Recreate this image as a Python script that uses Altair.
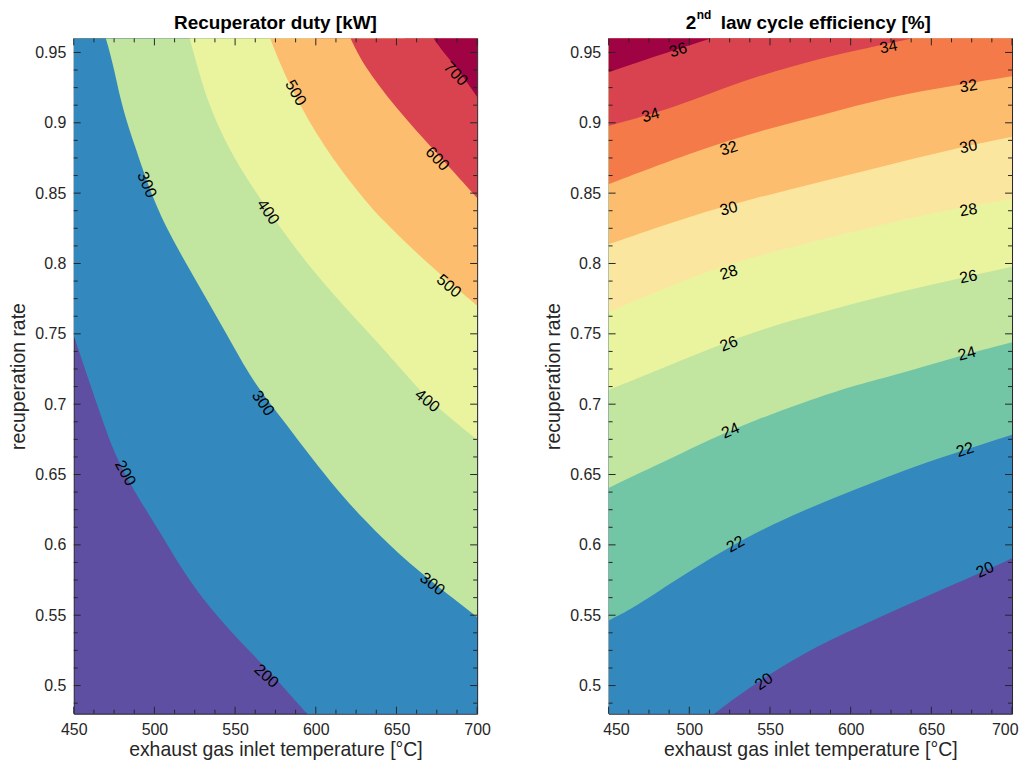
import altair as alt
import pandas as pd

# ---------------- Left panel: recuperator duty [kW] contour lines (T in °C, r = recuperation rate)
d200_T = [450, 459.3, 466.5, 475.7, 487, 503.5, 517.9, 536.4, 555, 575.6, 594, 700]
d200_r = [0.749, 0.717, 0.693, 0.663, 0.639, 0.609, 0.5805, 0.552, 0.529, 0.505, 0.480, 0.35]
d300_T = [450, 471.6, 478.8, 487, 499.4, 511.7, 528.2, 544.7, 561, 575.6, 610.5, 637.3, 664, 700]
d300_r = [1.02, 0.96, 0.9148, 0.8865, 0.8441, 0.8159, 0.7829, 0.75, 0.716, 0.695, 0.6417, 0.6088, 0.5805, 0.5487]
d400_T = [500, 522, 532.3, 548.8, 569.4, 590, 610.5, 637.3, 662, 672.2, 700]
d400_r = [1.05, 0.96, 0.9148, 0.8747, 0.8394, 0.8065, 0.7782, 0.7453, 0.713, 0.7006, 0.6747]
d500_T = [550, 571.4, 581.7, 600.2, 620.8, 641.4, 672.2, 700]
d500_r = [1.03, 0.96, 0.9312, 0.8912, 0.8583, 0.83, 0.797, 0.77]
d600_T = [600, 620.8, 631.1, 651.7, 672.2, 700]
d600_r = [1.02, 0.96, 0.9383, 0.9077, 0.8818, 0.8465]
d700_T = [655, 671.2, 686.7, 700]
d700_r = [1.0, 0.96, 0.9407, 0.9183]

duty_lab_T = [686.7, 587.5, 675.3, 495.3, 570.4, 682.5, 669.1, 567.3, 481.9, 672.2, 569.4]
duty_lab_r = [0.9347, 0.9213, 0.8743, 0.856, 0.8366, 0.784, 0.7024, 0.7006, 0.651, 0.5722, 0.5068]
duty_lab_s = ["700", "500", "600", "300", "400", "500", "400", "300", "200", "300", "200"]
duty_lab_a = [46, 60, 46, 67, 55, 40, 39, 55, 62, 38, 42]

# ---------------- Right panel: 2nd law cycle efficiency [%] contour lines
e20_T = [450, 515.2, 541, 571.9, 602.8, 633.8, 664.7, 700]
e20_r = [0.42, 0.4804, 0.5016, 0.524, 0.5405, 0.5569, 0.5722, 0.5904]
e22_T = [450, 464.7, 489.4, 512.1, 541, 571.9, 602.8, 633.8, 664.7, 700]
e22_r = [0.5463, 0.5546, 0.5734, 0.5899, 0.6088, 0.6252, 0.6393, 0.6535, 0.6653, 0.6782]
e24_T = [450, 464.7, 489.4, 512.1, 541, 571.9, 602.8, 623.5, 664.7, 700]
e24_r = [0.6405, 0.6487, 0.6617, 0.6746, 0.6888, 0.7017, 0.7135, 0.7193, 0.7335, 0.744]
e26_T = [450, 499.8, 541, 582.2, 623.5, 664.7, 700]
e26_r = [0.710, 0.7335, 0.7523, 0.7653, 0.7782, 0.7888, 0.7977]
e28_T = [450, 499.8, 541, 582.2, 623.5, 664.7, 700]
e28_r = [0.7653, 0.790, 0.8053, 0.8171, 0.8288, 0.8394, 0.8458]
e30_T = [450, 499.8, 541, 582.2, 623.5, 664.7, 700]
e30_r = [0.8136, 0.8335, 0.8465, 0.8583, 0.870, 0.8818, 0.890]
e32_T = [450, 499.8, 541, 582.2, 623.5, 664.7, 700]
e32_r = [0.8564, 0.8782, 0.8936, 0.9054, 0.9183, 0.9266, 0.9331]
e34_T = [450, 491.5, 530.7, 561.6, 592.6, 638, 700]
e34_r = [0.8978, 0.911, 0.9289, 0.9395, 0.9489, 0.96, 0.975]
e36_T = [450, 512.1, 600]
e36_r = [0.936, 0.96, 0.99]

eff_lab_T = [493.1, 623.5, 476, 524.5, 673, 524.5, 673, 524.5, 673, 524.5, 673, 672, 525.5, 528.6, 670.9, 546.2, 683.3]
eff_lab_r = [0.9517, 0.954, 0.9054, 0.8818, 0.926, 0.839, 0.883, 0.7935, 0.838, 0.7429, 0.7905, 0.7359, 0.6812, 0.6005, 0.6676, 0.5028, 0.5823]
eff_lab_s = ["36", "34", "34", "32", "32", "30", "30", "28", "28", "26", "26", "24", "24", "22", "22", "20", "20"]
eff_lab_a = [342, 349, 344, 342, 351, 345, 348, 342, 351, 338, 348, 345, 337, 330, 342, 325, 336]

# ---------------- axes ticks
x_major = [450, 500, 550, 600, 650, 700]
x_minor = [462.5, 475, 487.5, 512.5, 525, 537.5, 562.5, 575, 587.5, 612.5, 625, 637.5, 662.5, 675, 687.5]
y_major = [0.5, 0.55, 0.6, 0.65, 0.7, 0.75, 0.8, 0.85, 0.9, 0.95]
y_minor = [0.4875, 0.5125, 0.525, 0.5375, 0.5625, 0.575, 0.5875, 0.6125, 0.625, 0.6375,
           0.6625, 0.675, 0.6875, 0.7125, 0.725, 0.7375, 0.7625, 0.775, 0.7875, 0.8125,
           0.825, 0.8375, 0.8625, 0.875, 0.8875, 0.9125, 0.925, 0.9375]

# ---------------- style
W, H = 405, 678
INK = "#262626"
FONT = "Liberation Sans"
PURPLE = "#5e4fa2"
BLUE = "#3389bd"
TEAL = "#72c6a5"
LGREEN = "#c2e5a0"
YGREEN = "#eaf49f"
PYELLOW = "#fbe6a0"
LORANGE = "#fdbd6e"
ORANGE = "#f47a4a"
RED = "#d8434f"
DRED = "#a00343"

xs = alt.Scale(domain=[450, 700], nice=False, zero=False)
ys = alt.Scale(domain=[0.48, 0.96], nice=False, zero=False)

XT = "exhaust gas inlet temperature [°C]"
YT = "recuperation rate"


def xaxis(flush):
    kw = dict(values=x_major, ticks=False, domain=False, grid=False, labelFontSize=16,
              labelFont=FONT, labelColor=INK, labelPadding=8,
              titleFontSize=19.5, titleFont=FONT, titleFontWeight="normal", titleColor=INK, titlePadding=3)
    if flush:
        kw.update(labelFlush=True, labelFlushOffset=6)
    else:
        kw.update(labelFlush=False)
    return alt.Axis(**kw)


YAX = alt.Axis(values=y_major, format=".2~f", ticks=False, domain=False, grid=False, labelFontSize=16,
               labelFlush=False, labelFont=FONT, labelColor=INK, labelPadding=8,
               titleFontSize=19.5, titleFont=FONT, titleFontWeight="normal", titleColor=INK, titlePadding=6)


def make_panel(contours, colors, lab, title_layers, flush):
    XAX = xaxis(flush)

    def X(field):
        return alt.X(field, scale=xs, axis=XAX, title=XT)

    def Y(field):
        return alt.Y(field, scale=ys, axis=YAX, title=YT, stack=None)

    layers = []
    for (T, r), color in zip(contours, colors):
        df = pd.DataFrame({"T": T, "r": r})
        layers.append(alt.Chart(df).mark_area(color=color, clip=True, interpolate="basis", strokeWidth=0)
                      .encode(x=X("T:Q"), y=Y("r:Q"), y2=alt.value(0)))
    L, S = 7, 4
    for vals, ln in ((x_major, L), (x_minor, S)):
        b = alt.Chart(pd.DataFrame({"v": vals})).mark_rule(color=INK, strokeWidth=1)
        layers.append(b.encode(x=X("v:Q"), y=alt.value(H), y2=alt.value(H - ln)))
        layers.append(b.encode(x=X("v:Q"), y=alt.value(0), y2=alt.value(ln)))
    for vals, ln in ((y_major, L), (y_minor, S)):
        b = alt.Chart(pd.DataFrame({"v": vals})).mark_rule(color=INK, strokeWidth=1)
        layers.append(b.encode(y=Y("v:Q"), x=alt.value(0), x2=alt.value(ln)))
        layers.append(b.encode(y=Y("v:Q"), x=alt.value(W), x2=alt.value(W - ln)))
    T, r, s, a = lab
    df = pd.DataFrame({"T": T, "r": r, "s": s, "a": a})
    layers.append(alt.Chart(df).mark_text(font=FONT, fontSize=16, color="black", align="center",
                                          baseline="middle").encode(
        x=X("T:Q"), y=Y("r:Q"), text="s:N", angle=alt.Angle("a:Q", scale=None)))
    layers.extend(title_layers)
    return alt.layer(*layers).properties(width=W, height=H)


def txt(s, x, y, size, align, color="black", weight="bold"):
    df = pd.DataFrame({"s": [s]})
    return alt.Chart(df).mark_text(font=FONT, fontSize=size, fontWeight=weight, color=color,
                                   align=align, baseline="alphabetic").encode(
        x=alt.value(x), y=alt.value(y), text="s:N")


left = make_panel(
    [(d200_T, d200_r), (d300_T, d300_r), (d400_T, d400_r), (d500_T, d500_r), (d600_T, d600_r), (d700_T, d700_r)],
    [BLUE, LGREEN, YGREEN, LORANGE, RED, DRED],
    (duty_lab_T, duty_lab_r, duty_lab_s, duty_lab_a),
    [txt("Recuperator duty [kW]", W / 2, -9.5, 19, "center"),
     txt("nd", 2, -19.5, 12, "left", color="white")],
    flush=False,
)

right = make_panel(
    [(e20_T, e20_r), (e22_T, e22_r), (e24_T, e24_r), (e26_T, e26_r), (e28_T, e28_r),
     (e30_T, e30_r), (e32_T, e32_r), (e34_T, e34_r), (e36_T, e36_r)],
    [BLUE, TEAL, LGREEN, YGREEN, PYELLOW, LORANGE, ORANGE, RED, DRED],
    (eff_lab_T, eff_lab_r, eff_lab_s, eff_lab_a),
    [txt("2", 77.5, -9.5, 19, "left"),
     txt("nd", 88.5, -19.5, 12, "left"),
     txt("law cycle efficiency [%]", 112.5, -9.5, 19, "left")],
    flush=True,
)

chart = alt.hconcat(left, right, spacing=52).properties(
    padding={"left": 0, "top": -1, "right": 0, "bottom": 0}
).configure_view(stroke=INK, strokeWidth=1, fill=PURPLE)

chart.save("out.html", embed_options={"renderer": "svg", "actions": False})
